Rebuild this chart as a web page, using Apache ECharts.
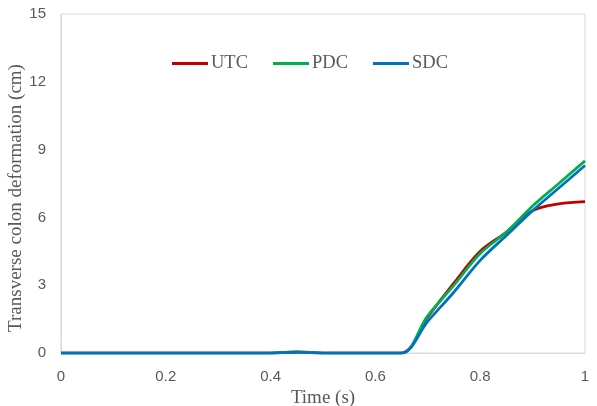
<!DOCTYPE html>
<html><head><meta charset="utf-8">
<script src="https://cdn.jsdelivr.net/npm/echarts@6/dist/echarts.min.js"></script>
<style>html,body{margin:0;padding:0;background:#fff}#c{width:597px;height:406px}</style>
</head><body><div id="c"></div>
<script>
const time = [0, 0.1, 0.2, 0.3, 0.4, 0.45, 0.5, 0.55, 0.6, 0.65, 0.7, 0.75, 0.8, 0.85, 0.9, 0.95, 1.0];
const utc  = [0, 0, 0, 0, 0, 0.05, 0, 0, 0, 0, 1.6, 3.1, 4.5, 5.35, 6.3, 6.6, 6.7];
const pdc  = [0, 0, 0, 0, 0, 0.05, 0, 0, 0, 0, 1.65, 3.0, 4.4, 5.35, 6.5, 7.5, 8.5];
const sdc  = [0, 0, 0, 0, 0, 0.03, 0, 0, 0, 0, 1.4, 2.7, 4.1, 5.2, 6.3, 7.3, 8.3];
const seriesNames = ['UTC', 'PDC', 'SDC'];
const colors = ['#C00000', '#00B050', '#0070C0'];
const xTitle = 'Time (s)';
const yTitle = 'Transverse colon deformation (cm)';
const serif = 'Liberation Serif';
const sans = 'Liberation Sans';
function pairs(v){ return time.map((t,i)=>[t, v[i]]); }
const chart = echarts.init(document.getElementById('c'));
chart.setOption({
  animation: false,
  grid: {left: 61, right: 12, top: 14, bottom: 53, show: true, borderColor: '#d9d9d9', borderWidth: 1, containLabel: false, outerBoundsMode: 'none'},
  legend: {
    top: 54, left: 172, padding: 0, itemGap: 25, itemWidth: 36, itemHeight: 3,
    icon: 'rect',
    textStyle: {fontFamily: serif, fontSize: 18.5, color: '#595959', padding: [0,0,0,-2]},
    data: seriesNames
  },
  graphic: [{
    type: 'text', x: 16, y: 198, rotation: Math.PI / 2,
    style: {text: yTitle, fontFamily: serif, fontSize: 19, fill: '#595959', textAlign: 'center', textVerticalAlign: 'middle'}
  }],
  xAxis: {
    type: 'value', min: 0, max: 1, interval: 0.2,
    name: xTitle, nameLocation: 'middle', nameGap: 24,
    nameTextStyle: {fontFamily: serif, fontSize: 19, color: '#595959'},
    axisLine: {show: true, lineStyle: {color: '#d9d9d9'}},
    axisTick: {show: false},
    splitLine: {show: false},
    axisLabel: {fontFamily: sans, fontSize: 15, color: '#595959', margin: 16, formatter: v => String(+v.toFixed(1))}
  },
  yAxis: {
    type: 'value', min: 0, max: 15, interval: 3,
    axisLine: {show: true, lineStyle: {color: '#d9d9d9'}},
    axisTick: {show: false},
    splitLine: {show: false},
    axisLabel: {fontFamily: sans, fontSize: 15, color: '#595959', margin: 15}
  },
  series: [utc, pdc, sdc].map((v,i)=>({
    name: seriesNames[i], type: 'line', data: pairs(v), smooth: 0.35, showSymbol: false,
    lineStyle: {width: 2.75, color: colors[i]}, itemStyle: {color: colors[i]}
  }))
});
</script></body></html>
